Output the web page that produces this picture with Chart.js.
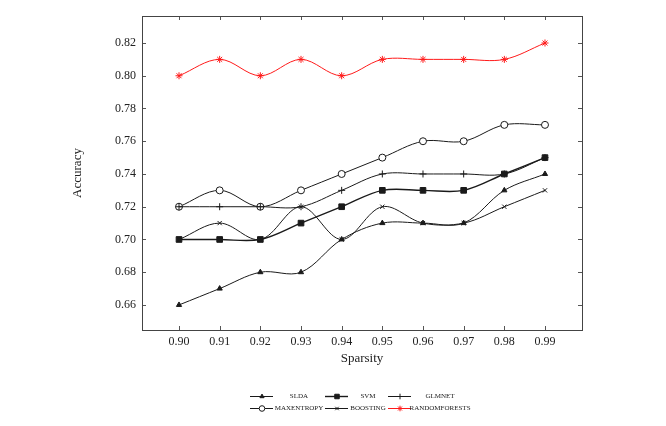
<!DOCTYPE html>
<html>
<head>
<meta charset="utf-8">
<script src="https://cdn.jsdelivr.net/npm/chart.js@4/dist/chart.umd.min.js"></script>
<style>
html,body{margin:0;padding:0;background:#fff;}
#wrap{width:666px;height:426px;position:relative;}
</style>
</head>
<body>
<div id="wrap"><canvas id="c" width="666" height="426"></canvas></div>
<script>
const xVals = [0.90, 0.91, 0.92, 0.93, 0.94, 0.95, 0.96, 0.97, 0.98, 0.99];
const yTicks = [0.66, 0.68, 0.70, 0.72, 0.74, 0.76, 0.78, 0.80, 0.82];
const slda = [0.66, 0.67, 0.68, 0.68, 0.70, 0.71, 0.71, 0.71, 0.73, 0.74];
const svm = [0.70, 0.70, 0.70, 0.71, 0.72, 0.73, 0.73, 0.73, 0.74, 0.75];
const glmnet = [0.72, 0.72, 0.72, 0.72, 0.73, 0.74, 0.74, 0.74, 0.74, 0.75];
const maxentropy = [0.72, 0.73, 0.72, 0.73, 0.74, 0.75, 0.76, 0.76, 0.77, 0.77];
const boosting = [0.70, 0.71, 0.70, 0.72, 0.70, 0.72, 0.71, 0.71, 0.72, 0.73];
const randomforests = [0.80, 0.81, 0.80, 0.81, 0.80, 0.81, 0.81, 0.81, 0.81, 0.82];
const seriesNames = ['SLDA', 'SVM', 'GLMNET', 'MAXENTROPY', 'BOOSTING', 'RANDOMFORESTS'];

const pts = arr => arr.map((v, i) => ({x: xVals[i], y: v}));
const INK = '#1a1a1a';
const RED = '#ff1a1a';

function ds(label, arr, style, opts) {
  return Object.assign({
    label: label,
    data: pts(arr),
    borderColor: INK,
    backgroundColor: INK,
    pointBorderColor: INK,
    pointBackgroundColor: INK,
    borderWidth: 1,
    pointBorderWidth: 1,
    pointStyle: style,
    pointRadius: 3,
    tension: 0.35,
    fill: false
  }, opts || {});
}

const datasets = [
  ds(seriesNames[0], slda, 'triangle', {pointRadius: 3}),
  ds(seriesNames[1], svm, 'rect', {pointRadius: 4, borderWidth: 1.4}),
  ds(seriesNames[2], glmnet, 'cross', {pointRadius: 3.5}),
  ds(seriesNames[3], maxentropy, 'circle', {pointRadius: 3.5, pointBackgroundColor: '#fff'}),
  ds(seriesNames[4], boosting, 'crossRot', {pointRadius: 3}),
  ds(seriesNames[5], randomforests, 'star', {pointRadius: 3.5, borderColor: RED, backgroundColor: RED, pointBorderColor: RED, pointBackgroundColor: RED})
];

const frameTicks = {
  id: 'frameTicks',
  afterDatasetsDraw(chart) {
    const {ctx, chartArea: a, scales} = chart;
    ctx.save();
    ctx.strokeStyle = '#555';
    ctx.lineWidth = 1;
    ctx.beginPath();
    xVals.forEach(v => {
      const px = Math.round(scales.x.getPixelForValue(v)) + 0.5;
      ctx.moveTo(px, a.bottom); ctx.lineTo(px, a.bottom - 4);
      ctx.moveTo(px, a.top); ctx.lineTo(px, a.top + 4);
    });
    yTicks.forEach(v => {
      const py = Math.round(scales.y.getPixelForValue(v)) + 0.5;
      ctx.moveTo(a.left, py); ctx.lineTo(a.left + 4, py);
      ctx.moveTo(a.right, py); ctx.lineTo(a.right - 4, py);
    });
    ctx.stroke();
    ctx.strokeStyle = '#444';
    ctx.strokeRect(Math.round(a.left) + 0.5, Math.round(a.top) + 0.5, Math.round(a.right - a.left), Math.round(a.bottom - a.top));
    ctx.restore();
  }
};

const customLegend = {
  id: 'customLegend',
  afterDraw(chart) {
    const ctx = chart.ctx;
    const cols = [{ls: 250, tc: 299}, {ls: 325, tc: 368}, {ls: 388, tc: 440}];
    const rows = [396, 408];
    ctx.save();
    ctx.font = '7px "Liberation Serif"';
    ctx.textBaseline = 'middle';
    ctx.textAlign = 'center';
    chart.data.datasets.forEach((d, i) => {
      const c = cols[i % 3], y = rows[Math.floor(i / 3)];
      ctx.strokeStyle = d.borderColor;
      ctx.lineWidth = d.borderWidth;
      ctx.beginPath();
      ctx.moveTo(c.ls, y + 0.5); ctx.lineTo(c.ls + 23, y + 0.5);
      ctx.stroke();
      ctx.fillStyle = d.pointBackgroundColor;
      ctx.strokeStyle = d.pointBorderColor;
      ctx.lineWidth = 1;
      Chart.helpers.drawPoint(ctx, {pointStyle: d.pointStyle, rotation: 0, radius: d.pointRadius * 0.8, borderWidth: 1}, c.ls + 12, y + 0.5);
      ctx.fillStyle = '#222';
      ctx.fillText(d.label, c.tc, y);
    });
    ctx.restore();
  }
};

new Chart(document.getElementById('c'), {
  type: 'line',
  data: {datasets: datasets},
  plugins: [frameTicks, customLegend],
  options: {
    responsive: false,
    animation: false,
    layout: {padding: {left: 66, right: 84, top: 16, bottom: 56}},
    plugins: {legend: {display: false}, tooltip: {enabled: false}},
    scales: {
      x: {
        type: 'linear',
        min: 0.8909, max: 0.9991,
        afterBuildTicks: s => { s.ticks = xVals.map(v => ({value: v})); },
        afterFit: s => { s.height = 40; },
        grid: {display: false, drawTicks: false},
        border: {display: false},
        ticks: {padding: 5, color: '#222', font: {family: 'Liberation Serif', size: 12},
                callback: v => Number(v).toFixed(2), maxRotation: 0, autoSkip: false},
        title: {display: true, text: 'Sparsity', color: '#222', font: {family: 'Liberation Serif', size: 13}}
      },
      y: {
        type: 'linear',
        min: 0.6447, max: 0.8365,
        afterBuildTicks: s => { s.ticks = yTicks.map(v => ({value: v})); },
        afterFit: s => { s.width = 76; },
        grid: {display: false, drawTicks: false},
        border: {display: false},
        ticks: {padding: 6, color: '#222', font: {family: 'Liberation Serif', size: 12},
                callback: v => Number(v).toFixed(2), autoSkip: false},
        title: {display: true, text: 'Accuracy', color: '#222', font: {family: 'Liberation Serif', size: 13}}
      }
    }
  }
});
</script>
</body>
</html>
